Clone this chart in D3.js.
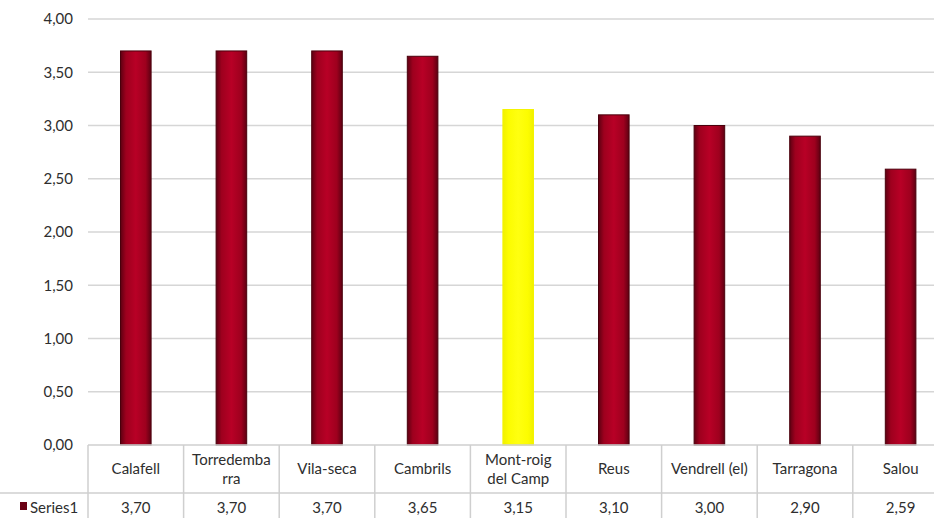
<!DOCTYPE html>
<html>
<head>
<meta charset="utf-8">
<script src="https://cdn.jsdelivr.net/npm/d3@7"></script>
<style>
  html, body { margin: 0; padding: 0; background: #fff; }
  text { font-family: Lato, "Noto Sans", sans-serif; fill: #2e2e2e; }
</style>
</head>
<body>
<div id="chart"></div>
<script>
// data
var towns = ["Calafell", "Torredembarra", "Vila-seca", "Cambrils", "Mont-roig del Camp",
             "Reus", "Vendrell (el)", "Tarragona", "Salou"];
var headerLines = [["Calafell"], ["Torredemba", "rra"], ["Vila-seca"], ["Cambrils"],
                   ["Mont-roig", "del Camp"], ["Reus"], ["Vendrell (el)"], ["Tarragona"], ["Salou"]];
var values = [3.70, 3.70, 3.70, 3.65, 3.15, 3.10, 3.00, 2.90, 2.59];
var highlight = "Mont-roig del Camp";
var yTicks = [0, 0.5, 1, 1.5, 2, 2.5, 3, 3.5, 4];
var seriesName = "Series1";

var width = 934, height = 518;
var plotLeft = 88, plotTop = 19, axisY = 445;
var colW = 95.6;

var fmt = function(v) { return v.toFixed(2).replace(".", ","); };

var svg = d3.select("#chart").append("svg")
  .attr("width", width)
  .attr("height", height);

var defs = svg.append("defs");

// cylinder-ish shading for the bars
function barGradient(id, edge, mid, centre) {
  var g = defs.append("linearGradient").attr("id", id)
    .attr("x1", "0%").attr("x2", "100%").attr("y1", "0%").attr("y2", "0%");
  g.append("stop").attr("offset", "0%").attr("stop-color", edge);
  g.append("stop").attr("offset", "18%").attr("stop-color", mid);
  g.append("stop").attr("offset", "50%").attr("stop-color", centre);
  g.append("stop").attr("offset", "82%").attr("stop-color", mid);
  g.append("stop").attr("offset", "100%").attr("stop-color", edge);
}
barGradient("redGrad", "#5e0012", "#9e001e", "#b80026");
barGradient("yellowGrad", "#f0f000", "#fcfc00", "#ffff10");

var x = d3.scaleBand()
  .domain(towns)
  .range([plotLeft, plotLeft + colW * towns.length])
  .paddingInner(0.68)
  .paddingOuter(0.34);

var y = d3.scaleLinear()
  .domain([0, 4])
  .range([axisY, plotTop]);

// gridlines
svg.append("g")
  .selectAll("line")
  .data(yTicks.filter(function(d) { return d > 0; }))
  .enter().append("line")
  .attr("x1", plotLeft).attr("x2", width)
  .attr("y1", function(d) { return y(d); })
  .attr("y2", function(d) { return y(d); })
  .style("stroke", "#d6d6d6")
  .style("stroke-width", 1.5);

// y axis labels
var yAxis = d3.axisLeft(y)
  .tickValues(yTicks)
  .tickFormat(fmt)
  .tickSize(0)
  .tickPadding(15);

var yg = svg.append("g")
  .attr("transform", "translate(" + plotLeft + ",0)")
  .call(yAxis);
yg.select(".domain").remove();
yg.selectAll("text")
  .style("font-size", "15px")
  .style("font-family", "Lato, 'Noto Sans', sans-serif")
  .style("fill", "#2e2e2e");

// bars
svg.append("g")
  .selectAll("rect")
  .data(towns)
  .enter().append("rect")
  .attr("x", function(d) { return x(d); })
  .attr("width", x.bandwidth())
  .attr("y", function(d, i) { return y(values[i]); })
  .attr("height", function(d, i) { return axisY - y(values[i]); })
  .style("fill", function(d) { return d == highlight ? "url(#yellowGrad)" : "url(#redGrad)"; })
  .style("stroke", function(d) { return d == highlight ? "#f4f400" : "#4a000c"; })
  .style("stroke-width", 1);

// data table
var table = svg.append("g");
var lineColor = "#cfcfcf";

table.append("line")
  .attr("x1", plotLeft).attr("x2", width)
  .attr("y1", axisY).attr("y2", axisY)
  .style("stroke", lineColor).style("stroke-width", 1.5);

table.append("line")
  .attr("x1", 0).attr("x2", width)
  .attr("y1", 493).attr("y2", 493)
  .style("stroke", lineColor).style("stroke-width", 1.5);

table.selectAll(".vline")
  .data(d3.range(towns.length + 1))
  .enter().append("line")
  .attr("class", "vline")
  .attr("x1", function(i) { return plotLeft + i * colW; })
  .attr("x2", function(i) { return plotLeft + i * colW; })
  .attr("y1", axisY).attr("y2", height)
  .style("stroke", lineColor).style("stroke-width", 1.5);

// category names
var head = table.selectAll(".head")
  .data(towns)
  .enter().append("text")
  .attr("class", "head")
  .attr("text-anchor", "middle")
  .style("font-size", "15px")
  .attr("x", function(d) { return x(d) + x.bandwidth() / 2; })
  .attr("y", function(d, i) { return headerLines[i].length > 1 ? 465 : 474; });

head.each(function(d, i) {
  var t = d3.select(this);
  var cx = x(d) + x.bandwidth() / 2;
  headerLines[i].forEach(function(s, k) {
    t.append("tspan")
      .attr("x", cx)
      .attr("dy", k == 0 ? 0 : 19)
      .text(s);
  });
});

// values row
table.selectAll(".val")
  .data(towns)
  .enter().append("text")
  .attr("class", "val")
  .attr("text-anchor", "middle")
  .style("font-size", "15px")
  .attr("x", function(d) { return x(d) + x.bandwidth() / 2; })
  .attr("y", 513)
  .text(function(d, i) { return fmt(values[i]); });

// legend key
table.append("rect")
  .attr("x", 20).attr("y", 502)
  .attr("width", 7).attr("height", 8)
  .style("fill", "#6a0014");

table.append("text")
  .attr("x", 30).attr("y", 513)
  .style("font-size", "15px")
  .text(seriesName);
</script>
</body>
</html>
